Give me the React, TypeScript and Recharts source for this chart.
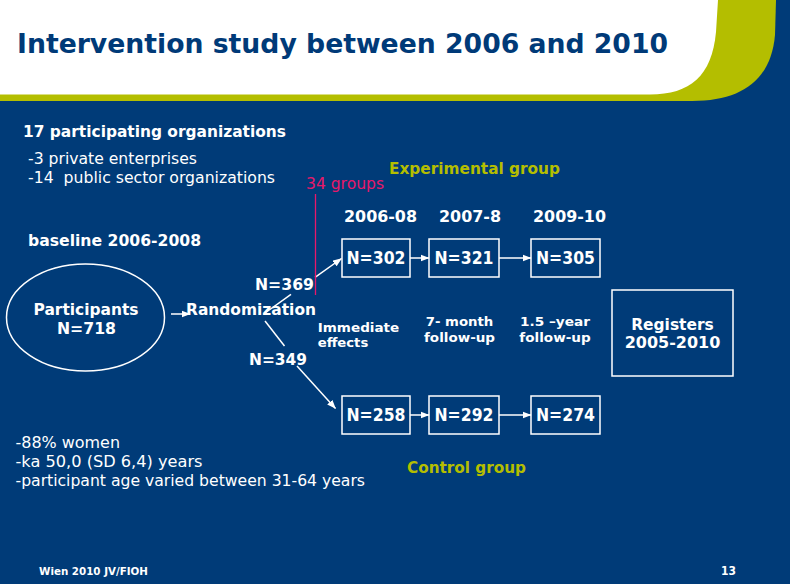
import React from 'react';
import { ScatterChart, XAxis, YAxis, Scatter, ReferenceLine, Customized } from 'recharts';

// ---------- data ----------
const title = 'Intervention study between 2006 and 2010';
const periods = ['2006-08', '2007-8', '2009-10'];
const experimentalN = [302, 321, 305];
const controlN = [258, 292, 274];
const randomizedN = [369, 349];
const totalN = 718;
const followUps = [
  ['Immediate', 'effects'],
  ['7- month', 'follow-up'],
  ['1.5 \u2013year', 'follow-up'],
];
const orgLines = ['17 participating organizations', '-3 private enterprises', '-14\u00a0 public sector organizations'];
const demographics = ['-88% women', '-ka 50,0 (SD 6,4) years', '-participant age varied between 31-64 years'];
const groupsLabel = '34 groups';
const registers = ['Registers', '2005-2010'];

// ---------- layout ----------
const W = 790;
const H = 584;
const NAVY = '#003B78';
const OLIVE = '#B4BE00';
const PINK = '#E8186A';
const WHITE = '#FFFFFF';
const FONT = '"DejaVu Sans", Verdana, sans-serif';
const FONT_C = '"DejaVu Sans Condensed", "DejaVu Sans", sans-serif';

const colX = [376, 464, 565.5];
const colW = [68, 70, 69];
const rowY = [258, 415];
const boxH = 38;

type TextItem = {
  x: number; y: number; text: string; size: number; bold?: boolean;
  color?: string; anchor?: 'start' | 'middle' | 'end'; len?: number; family?: string;
};

const boxes = [
  ...experimentalN.map((n, i) => ({ x: colX[i], y: rowY[0], w: colW[i], h: boxH, label: `N=${n}` })),
  ...controlN.map((n, i) => ({ x: colX[i], y: rowY[1], w: colW[i], h: boxH, label: `N=${n}` })),
];

const registerBox = [{ x: 672.5, y: 333, w: 121, h: 86, lines: registers }];
const participantNode = [{ x: 85.5, y: 317.5, rx: 79, ry: 53.5, lines: ['Participants', `N=${totalN}`] }];

const periodLen = [73, 62, 73];
const periodX = [380.5, 470, 569.5];
const fuX = [317.7, 459.5, 555];
const fuLen = [[81.6, 50.6], [67.6, 71], [70, 71.3]];

const texts: TextItem[] = [
  { x: 23, y: 137.3, text: orgLines[0], size: 16, bold: true, len: 263 },
  { x: 28, y: 164, text: orgLines[1], size: 16, len: 169 },
  { x: 28, y: 183.3, text: orgLines[2], size: 16, len: 247 },
  { x: 28, y: 246, text: 'baseline 2006-2008', size: 16, bold: true, len: 173 },
  { x: 306, y: 189.3, text: groupsLabel, size: 15, color: PINK, len: 78 },
  { x: 389, y: 174, text: 'Experimental group', size: 16, bold: true, color: OLIVE, len: 171 },
  ...periods.map((p, i) => ({ x: periodX[i], y: 221.7, text: p, size: 16, bold: true, anchor: 'middle' as const, len: periodLen[i] })),
  { x: 186, y: 315, text: 'Randomization', size: 16.5, bold: true, len: 130 },
  { x: 255, y: 290, text: `N=${randomizedN[0]}`, size: 16.5, bold: true, len: 59 },
  { x: 249, y: 365.3, text: `N=${randomizedN[1]}`, size: 16.5, bold: true, len: 58 },
  { x: fuX[0], y: 332.3, text: followUps[0][0], size: 12.5, bold: true, len: fuLen[0][0] },
  { x: fuX[0], y: 347.3, text: followUps[0][1], size: 12.5, bold: true, len: fuLen[0][1] },
  ...[1, 2].flatMap((i) => [
    { x: fuX[i], y: 326, text: followUps[i][0], size: 12.5, bold: true, anchor: 'middle' as const, len: fuLen[i][0] },
    { x: fuX[i], y: 341.7, text: followUps[i][1], size: 12.5, bold: true, anchor: 'middle' as const, len: fuLen[i][1] },
  ]),
  { x: 15.5, y: 448.3, text: demographics[0], size: 16, len: 104.5 },
  { x: 15.5, y: 467.3, text: demographics[1], size: 16, len: 187 },
  { x: 15.5, y: 485.5, text: demographics[2], size: 16, len: 349.5 },
  { x: 407, y: 473.3, text: 'Control group', size: 16, bold: true, color: OLIVE, len: 119 },
  { x: 39, y: 575.3, text: 'Wien 2010 JV/FIOH', size: 11, bold: true, len: 109, family: FONT_C },
  { x: 721, y: 575, text: '13', size: 11.5, bold: true, len: 15 },
];

type Seg = { from: [number, number]; to: [number, number]; arrow?: boolean; color?: string; width?: number };
const segments: Seg[] = [
  { from: [171, 314], to: [190, 314], arrow: true },
  { from: [265, 313], to: [291, 294.4] },
  { from: [315, 277.3], to: [341.5, 258.5], arrow: true },
  { from: [265, 321], to: [284.5, 346] },
  { from: [297, 366], to: [335.5, 408.5], arrow: true },
  ...rowY.flatMap((y) => [
    { from: [colX[0] + colW[0] / 2, y] as [number, number], to: [colX[1] - colW[1] / 2, y] as [number, number], arrow: true },
    { from: [colX[1] + colW[1] / 2, y] as [number, number], to: [colX[2] - colW[2] / 2, y] as [number, number], arrow: true },
  ]),
  { from: [315.5, 194], to: [315.5, 295], color: PINK, width: 1.3 },
];

// ---------- shapes ----------
const TextShape = (props: any) => {
  const { cx, cy, payload } = props;
  const t: TextItem = payload;
  return (
    <text
      x={cx}
      y={cy}
      fill={t.color || WHITE}
      fontSize={t.size}
      fontWeight={t.bold ? 'bold' : 'normal'}
      fontFamily={t.family || FONT}
      textAnchor={t.anchor || 'start'}
      textLength={t.len}
      lengthAdjust="spacingAndGlyphs"
    >
      {t.text}
    </text>
  );
};

const BoxShape = (props: any) => {
  const { cx, cy, payload } = props;
  return (
    <g>
      <rect x={cx - payload.w / 2} y={cy - payload.h / 2} width={payload.w} height={payload.h} fill="none" stroke={WHITE} strokeWidth={1.5} />
      <text x={cx} y={cy + 6.3} fill={WHITE} fontSize={17} fontWeight="bold" fontFamily={FONT} textAnchor="middle" textLength={59} lengthAdjust="spacingAndGlyphs">
        {payload.label}
      </text>
    </g>
  );
};

const RegisterShape = (props: any) => {
  const { cx, cy, payload } = props;
  return (
    <g>
      <rect x={cx - payload.w / 2} y={cy - payload.h / 2} width={payload.w} height={payload.h} fill="none" stroke={WHITE} strokeWidth={1.5} />
      <text x={cx} y={cy - 3} fill={WHITE} fontSize={16.5} fontWeight="bold" fontFamily={FONT} textAnchor="middle" textLength={82.6} lengthAdjust="spacingAndGlyphs">
        {payload.lines[0]}
      </text>
      <text x={cx} y={cy + 15} fill={WHITE} fontSize={16.5} fontWeight="bold" fontFamily={FONT} textAnchor="middle" textLength={95.7} lengthAdjust="spacingAndGlyphs">
        {payload.lines[1]}
      </text>
    </g>
  );
};

const EllipseShape = (props: any) => {
  const { cx, cy, payload } = props;
  return (
    <g>
      <ellipse cx={cx} cy={cy} rx={payload.rx} ry={payload.ry} fill="none" stroke={WHITE} strokeWidth={1.5} />
      <text x={cx + 0.5} y={cy - 2.5} fill={WHITE} fontSize={16.5} fontWeight="bold" fontFamily={FONT} textAnchor="middle" textLength={105} lengthAdjust="spacingAndGlyphs">
        {payload.lines[0]}
      </text>
      <text x={cx + 1} y={cy + 16.5} fill={WHITE} fontSize={16.5} fontWeight="bold" fontFamily={FONT} textAnchor="middle" textLength={59} lengthAdjust="spacingAndGlyphs">
        {payload.lines[1]}
      </text>
    </g>
  );
};

const Header = () => (
  <g>
    <defs>
      <marker id="ah" markerWidth="9" markerHeight="8" refX="8.5" refY="4" orient="auto" markerUnits="userSpaceOnUse">
        <path d="M0,0.5 L9,4 L0,7.5 Z" fill={WHITE} />
      </marker>
    </defs>
    <rect x={0} y={0} width={W} height={H} fill={NAVY} />
    <path d="M0,0 H776 L775,35 C771,80 742,101 692,101 H0 Z" fill={OLIVE} />
    <path d="M0,0 H718 L716,32 C712,76 690,94.5 650,94.5 H0 Z" fill={WHITE} />
    <text x={17} y={53.3} fill="#003A78" fontSize={27} fontWeight="bold" fontFamily={FONT_C} textLength={651} lengthAdjust="spacingAndGlyphs">
      {title}
    </text>
  </g>
);

export default function App() {
  return (
    <div style={{ position: 'absolute', left: 0, top: 0, width: W, height: H, background: NAVY }}>
      <ScatterChart width={W} height={H} margin={{ top: 0, right: 0, bottom: 0, left: 0 }}>
        <Customized component={Header} />
        <XAxis type="number" dataKey="x" domain={[0, W]} hide allowDataOverflow />
        <YAxis type="number" dataKey="y" domain={[0, H]} reversed hide allowDataOverflow />
        {segments.map((s, i) => (
          <ReferenceLine
            key={i}
            segment={[{ x: s.from[0], y: s.from[1] }, { x: s.to[0], y: s.to[1] }]}
            stroke={s.color || WHITE}
            strokeWidth={s.width || 1.5}
            strokeOpacity={1}
            markerEnd={s.arrow ? 'url(#ah)' : undefined}
            ifOverflow="visible"
          />
        ))}
        <Scatter data={participantNode} shape={EllipseShape} isAnimationActive={false} />
        <Scatter data={boxes} shape={BoxShape} isAnimationActive={false} />
        <Scatter data={registerBox} shape={RegisterShape} isAnimationActive={false} />
        <Scatter data={texts} shape={TextShape} isAnimationActive={false} />
      </ScatterChart>
    </div>
  );
}
